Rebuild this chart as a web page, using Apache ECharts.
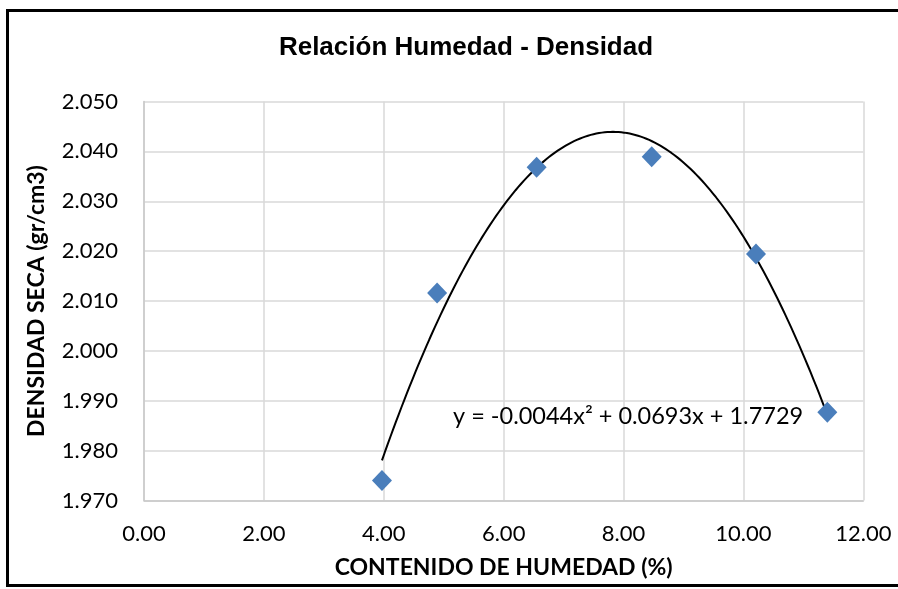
<!DOCTYPE html>
<html>
<head>
<meta charset="utf-8">
<script src="https://cdn.jsdelivr.net/npm/echarts@6/dist/echarts.min.js"></script>
<style>
  html, body { margin: 0; padding: 0; background: #ffffff; }
  #chart { width: 898px; height: 589px; }
</style>
</head>
<body>
<div id="chart"></div>
<script>
// Compaction test: moisture content (%) vs dry density (gr/cm3)
const moisture = [3.97, 4.89, 6.55, 8.47, 10.21, 11.40];
const dryDensity = [1.974, 2.0116, 2.0368, 2.0389, 2.0194, 1.9877];

const xTickValues = [0, 2, 4, 6, 8, 10, 12];
const yTickValues = [1.970, 1.980, 1.990, 2.000, 2.010, 2.020, 2.030, 2.040, 2.050];

const chartTitle = 'Relación Humedad - Densidad';
const xTitle = 'CONTENIDO DE HUMEDAD (%)';
const yTitle = 'DENSIDAD SECA (gr/cm3)';
const equationText = 'y = -0.0044x² + 0.0693x + 1.7729';

// Least-squares quadratic fit of the measured points (polynomial trendline, order 2)
function quadFit(xs, ys) {
  let s = [0, 0, 0, 0, 0], t = [0, 0, 0];
  for (let i = 0; i < xs.length; i++) {
    let p = 1;
    for (let k = 0; k < 5; k++) { s[k] += p; if (k < 3) t[k] += p * ys[i]; p *= xs[i]; }
  }
  // Normal equations for [c, b, a]
  const M = [
    [s[0], s[1], s[2], t[0]],
    [s[1], s[2], s[3], t[1]],
    [s[2], s[3], s[4], t[2]]
  ];
  for (let i = 0; i < 3; i++) {
    let piv = i;
    for (let r = i + 1; r < 3; r++) if (Math.abs(M[r][i]) > Math.abs(M[piv][i])) piv = r;
    [M[i], M[piv]] = [M[piv], M[i]];
    for (let r = 0; r < 3; r++) {
      if (r === i) continue;
      const f = M[r][i] / M[i][i];
      for (let c = i; c < 4; c++) M[r][c] -= f * M[i][c];
    }
  }
  return { c: M[0][3] / M[0][0], b: M[1][3] / M[1][1], a: M[2][3] / M[2][2] };
}

const fit = quadFit(moisture, dryDensity);
const xLo = Math.min(...moisture), xHi = Math.max(...moisture);
const trend = [];
const steps = 160;
for (let i = 0; i <= steps; i++) {
  const x = xLo + (xHi - xLo) * i / steps;
  trend.push([x, fit.a * x * x + fit.b * x + fit.c]);
}

const points = moisture.map((x, i) => [x, dryDensity[i]]);

const chart = echarts.init(document.getElementById('chart'), null, { renderer: 'canvas' });

chart.setOption({
  backgroundColor: '#ffffff',
  animation: false,
  title: {
    text: chartTitle,
    left: 461,
    top: 30,
    textAlign: 'center',
    textStyle: { fontFamily: 'Liberation Sans', fontWeight: 'bold', fontSize: 26, color: '#000000' }
  },
  grid: { left: 144, top: 101.5, right: 34.7, bottom: 88.5, containLabel: false },
  xAxis: {
    type: 'value',
    min: xTickValues[0],
    max: xTickValues[xTickValues.length - 1],
    interval: xTickValues[1] - xTickValues[0],
    name: xTitle,
    nameLocation: 'middle',
    nameGap: 56,
    nameTextStyle: { fontFamily: 'Lato', fontWeight: 'bold', fontSize: 23, color: '#000000' },
    axisLine: { show: true, lineStyle: { color: '#c8c8c8', width: 1.5 } },
    axisTick: { show: false },
    axisLabel: {
      margin: 22,
      fontFamily: 'Lato', fontSize: 22, color: '#000000',
      formatter: v => v.toFixed(2)
    },
    splitLine: { show: true, lineStyle: { color: '#d9d9d9', width: 1.5 } }
  },
  yAxis: {
    type: 'value',
    min: yTickValues[0],
    max: yTickValues[yTickValues.length - 1],
    interval: 0.01,
    name: yTitle,
    nameLocation: 'middle',
    nameRotate: 90,
    nameGap: 107,
    nameTextStyle: { fontFamily: 'Lato', fontWeight: 'bold', fontSize: 23, color: '#000000', verticalAlign: 'middle' },
    axisLine: { show: true, lineStyle: { color: '#c8c8c8', width: 1.5 } },
    axisTick: { show: false },
    axisLabel: {
      margin: 26,
      fontFamily: 'Lato', fontSize: 22, color: '#000000',
      formatter: v => v.toFixed(3)
    },
    splitLine: { show: true, lineStyle: { color: '#d9d9d9', width: 1.5 } }
  },
  series: [
    {
      name: 'trend',
      type: 'line',
      data: trend,
      showSymbol: false,
      symbol: 'none',
      smooth: false,
      lineStyle: { color: '#000000', width: 2 },
      z: 2
    },
    {
      name: 'ensayo',
      type: 'scatter',
      data: points,
      symbol: 'diamond',
      symbolSize: [20, 21],
      itemStyle: { color: '#4a7ebb', opacity: 1 },
      z: 3
    }
  ],
  graphic: [
    {
      type: 'text',
      left: 453,
      top: 404,
      style: { text: equationText, font: '23.5px Lato', fill: '#000000' },
      z: 10
    },
    {
      type: 'rect',
      shape: { x: 7.5, y: 10.5, width: 900, height: 575 },
      style: { fill: 'none', stroke: '#000000', lineWidth: 3 },
      z: 20
    }
  ]
});
</script>
</body>
</html>
